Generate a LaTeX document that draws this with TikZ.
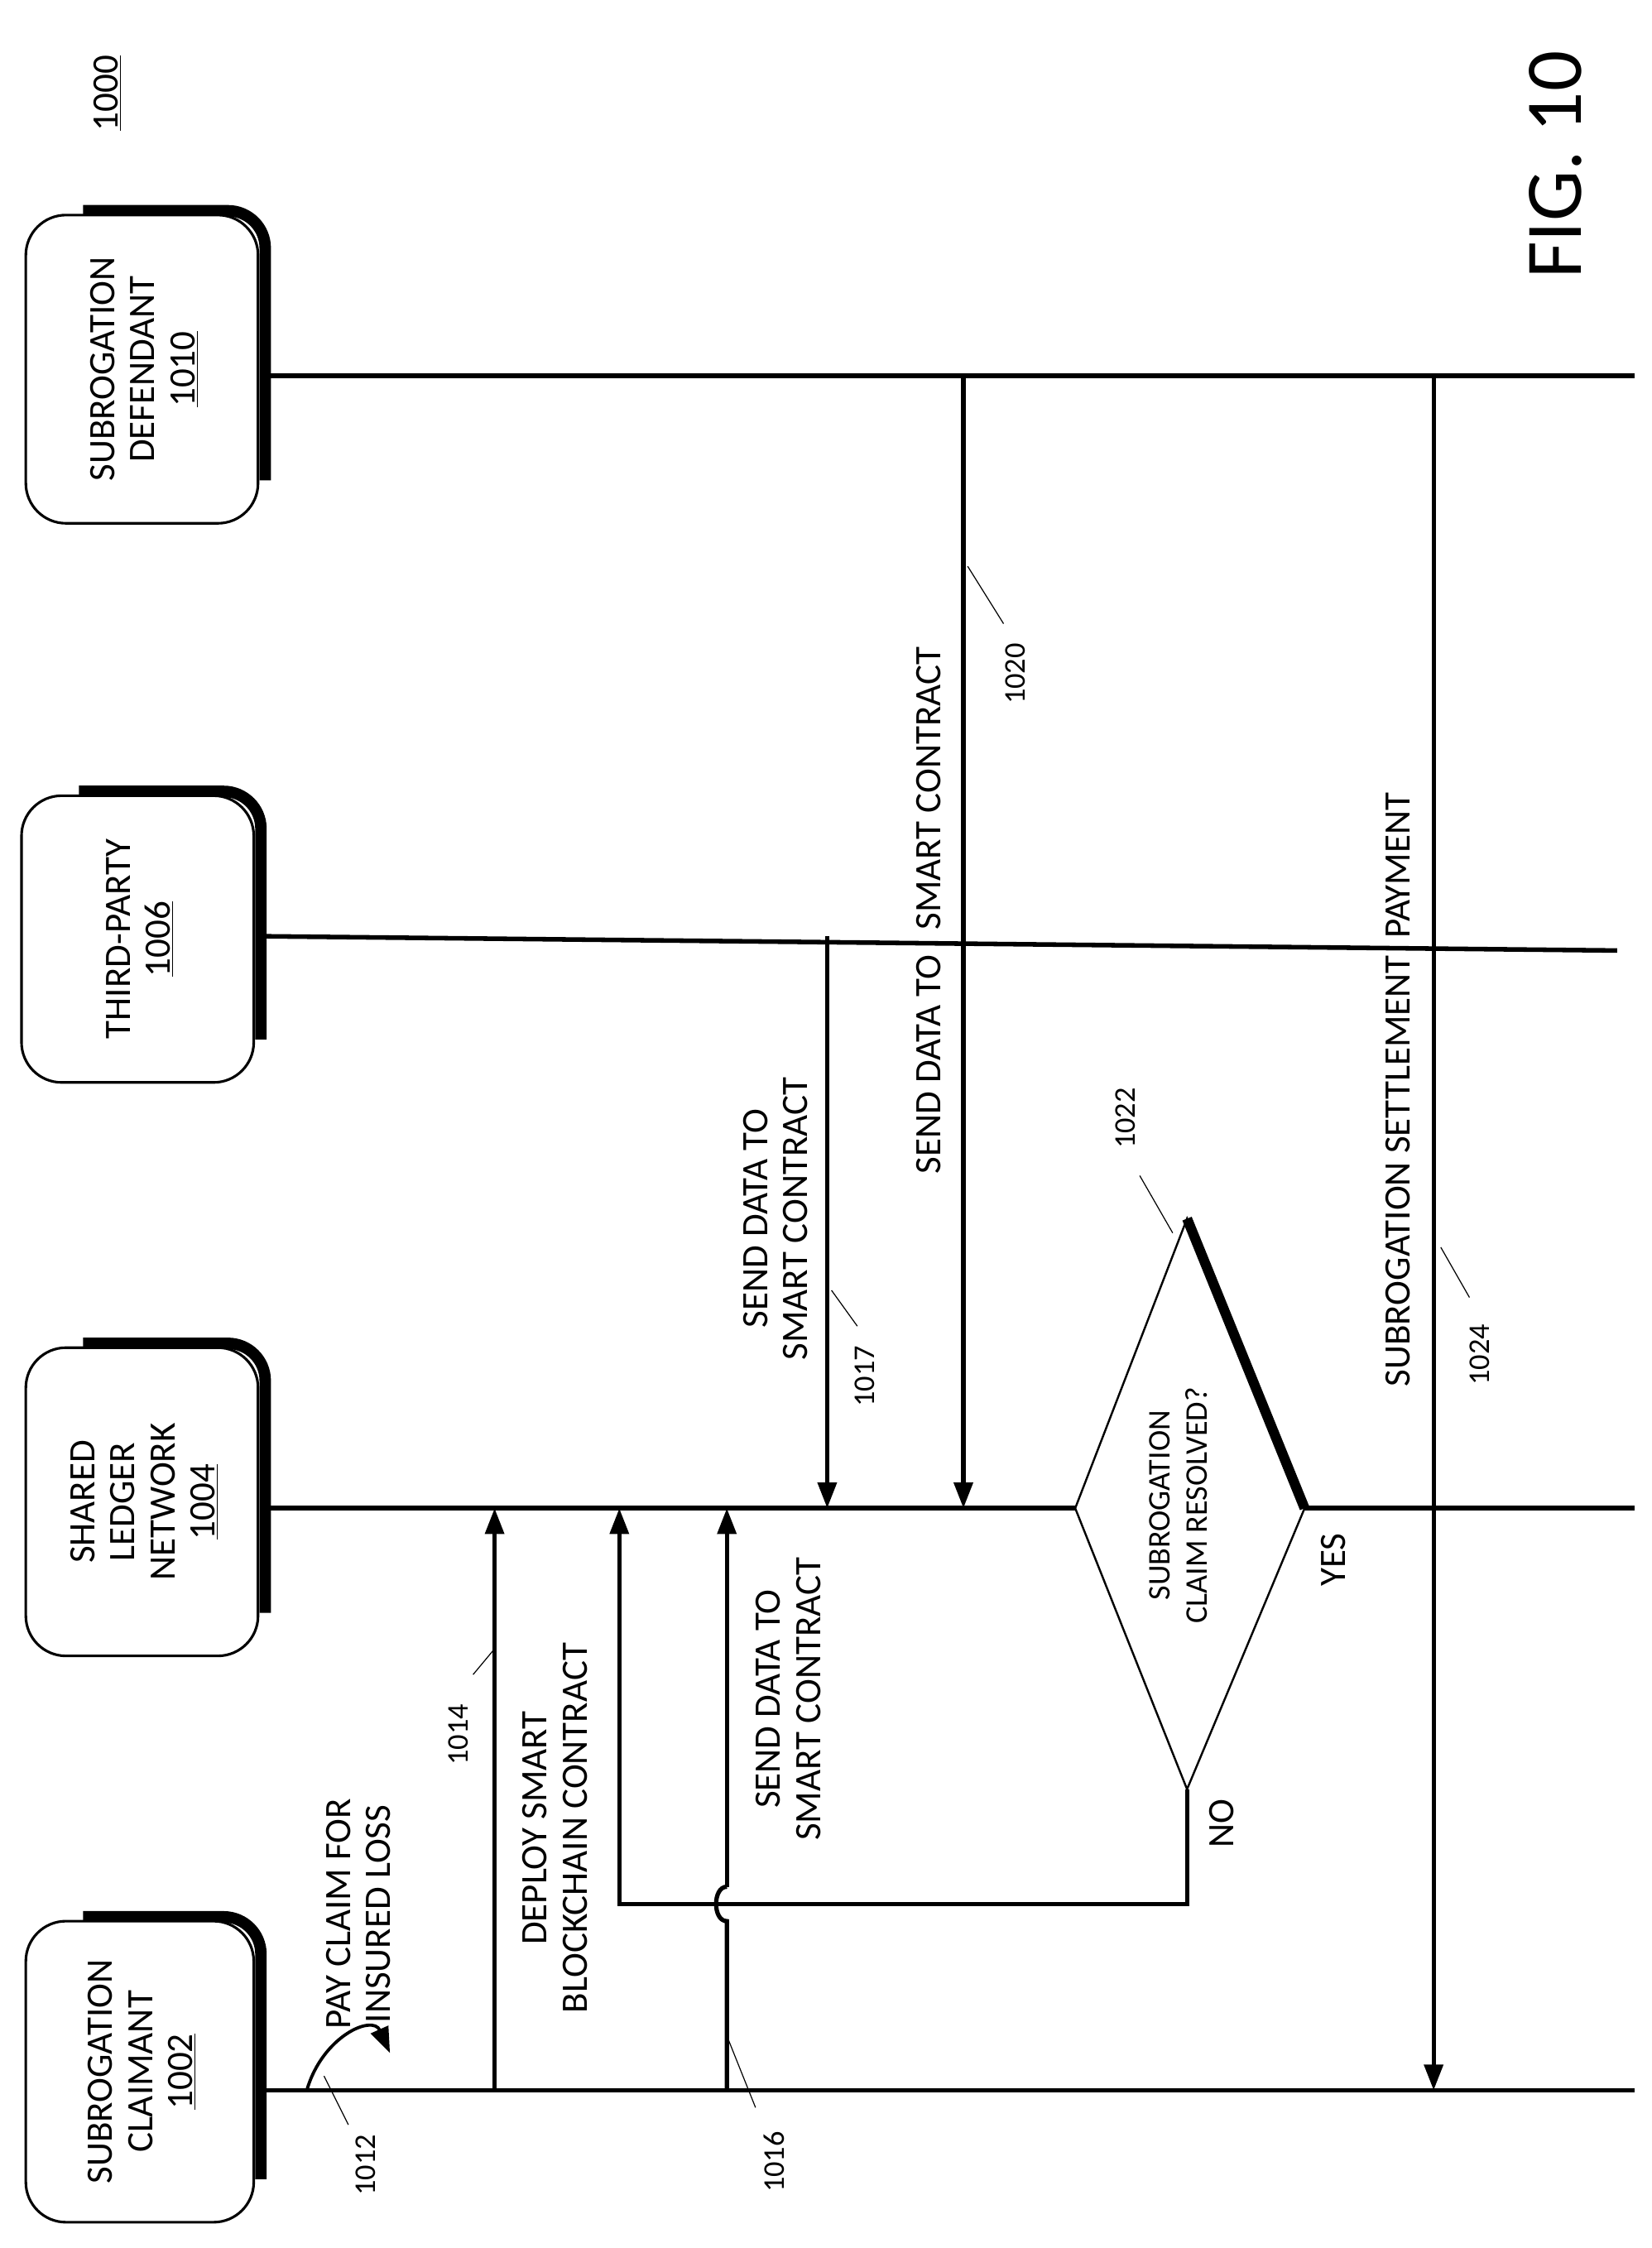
\documentclass[tikz,border=0pt]{standalone}
\usepackage{fontspec}
\setmainfont{Carlito}
\usetikzlibrary{arrows.meta}
\begin{document}
\begin{tikzpicture}[x=1pt,y=-1pt,
 life/.style={line width=3.2pt},
 arr/.style={line width=3pt,-{Triangle[length=18pt,width=13pt]}},
 lab/.style={rotate=90,font=\fontsize{26}{28}\selectfont,align=center},
 num/.style={rotate=90,font=\fontsize{21}{24}\selectfont},
 lead/.style={line width=0.7pt}]
\useasboundingbox (0,0) rectangle (1152,1568);
% boxes
\foreach \n/\xa/\xb/\ya/\yb/\t in {
 a/18/180/1340/1550/{SUBROGATION\\CLAIMANT\\\underline{1002}},
 b/18/183/940/1155/{SHARED\\LEDGER\\NETWORK\\\underline{1004}},
 c/15/180/555/755/{THIRD-PARTY\\\underline{1006}},
 d/18/183/150/365/{SUBROGATION\\DEFENDANT\\\underline{1010}}}{
 \draw[line width=8pt,rounded corners=26pt] (\xa+40,\ya-3) -- (\xb+2,\ya-3) -- (\xb+2,\yb-30);
 \draw[line width=1.8pt,fill=white,rounded corners=28pt] (\xa,\ya) rectangle (\xb-3,\yb);
 \node[lab] (\n) at ({(\xa+\xb)/2},{(\ya+\yb)/2}) {\t};
}
\coordinate (la0) at (180,1458); \coordinate (la1) at (1140,1458);
\coordinate (lb0) at (183,1052); \coordinate (lb1) at (1140,1052);
\coordinate (lc0) at (180,653); \coordinate (lc1) at (1128,663);
\coordinate (ld0) at (183,262); \coordinate (ld1) at (1140,262);
\coordinate (dL) at (750,1052); \coordinate (dT) at (828,850); \coordinate (dR) at (910,1052); \coordinate (dB) at (828,1248);
\draw[life] (la0)--(la1); \draw[life] (lb0)--(dL); \draw[life] (dR)--(lb1); \draw[life] (lc0)--(lc1); \draw[life] (ld0)--(ld1);
\node[lab] (n1000) at (75,65) {\underline{1000}};
\node[rotate=90,font=\fontsize{56}{60}\selectfont] (fig) at (1085,115) {FIG. 10};
% 1012
\coordinate (s0) at (214,1458); \coordinate (s1) at (272,1432);
\draw[arr,line width=2.2pt] (s0) .. controls (225,1420) and (260,1405) .. (s1);
\node[lab] (t1012) at (250,1335) {PAY CLAIM FOR\\INSURED LOSS};
\node[num] (n1012) at (255,1510) {1012};
\draw[lead] (226,1448) -- (243,1482);
% 1014
\coordinate (a14) at (345,1458); \coordinate (b14) at (345,1052);
\draw[arr] (a14) -- (b14);
\node[lab] (t1014) at (387,1275) {DEPLOY SMART\\BLOCKCHAIN CONTRACT};
\node[num] (n1014) at (320,1210) {1014};
\draw[lead] (330,1168) -- (345,1150);
% 1016 with hop
\coordinate (a16) at (507,1458); \coordinate (b16) at (507,1052);
\draw[line width=3pt] (a16) -- (507,1340) .. controls (497,1340) and (497,1316) .. (507,1316);
\draw[arr] (507,1316) -- (b16);
\node[lab] (t1016) at (550,1185) {SEND DATA TO\\SMART CONTRACT};
\node[num] (n1016) at (540,1508) {1016};
\draw[lead] (507,1420) -- (527,1470);
% loop
\draw[arr] (dB) -- (828,1328) -- (432,1328) -- (432,1052);
\node[lab] (no) at (852,1272) {NO};
% 1017
\coordinate (a17) at (577,653); \coordinate (b17) at (577,1052);
\draw[arr] (a17) -- (b17);
\node[lab] (t1017) at (541,850) {SEND DATA TO\\SMART CONTRACT};
\node[num] (n1017) at (603,960) {1017};
\draw[lead] (580,900) -- (598,925);
% 1020
\coordinate (a20) at (672,262); \coordinate (b20) at (672,1052);
\draw[arr] (a20) -- (b20);
\node[lab] (t1020) at (648,635) {SEND DATA TO\ \ \ SMART CONTRACT};
\node[num] (n1020) at (708,470) {1020};
\draw[lead] (675,395) -- (700,435);
% diamond
\draw[line width=1.4pt] (dL) -- (dT) -- (dR) -- (dB) -- cycle;
\draw[line width=7pt] (dT) -- (dR);
\node[lab,font=\fontsize{22}{26}\selectfont] (t1022) at (822,1050) {SUBROGATION\\CLAIM RESOLVED?};
\node[num] (n1022) at (785,780) {1022};
\draw[lead] (795,820) -- (818,860);
\node[lab] (yes) at (930,1088) {YES};
% 1024
\coordinate (a24) at (1000,262); \coordinate (b24) at (1000,1458);
\draw[arr] (a24) -- (b24);
\node[lab] (t1024) at (975,760) {SUBROGATION SETTLEMENT\ \ PAYMENT};
\node[num] (n1024) at (1032,945) {1024};
\draw[lead] (1005,870) -- (1025,905);
\end{tikzpicture}
\end{document}
